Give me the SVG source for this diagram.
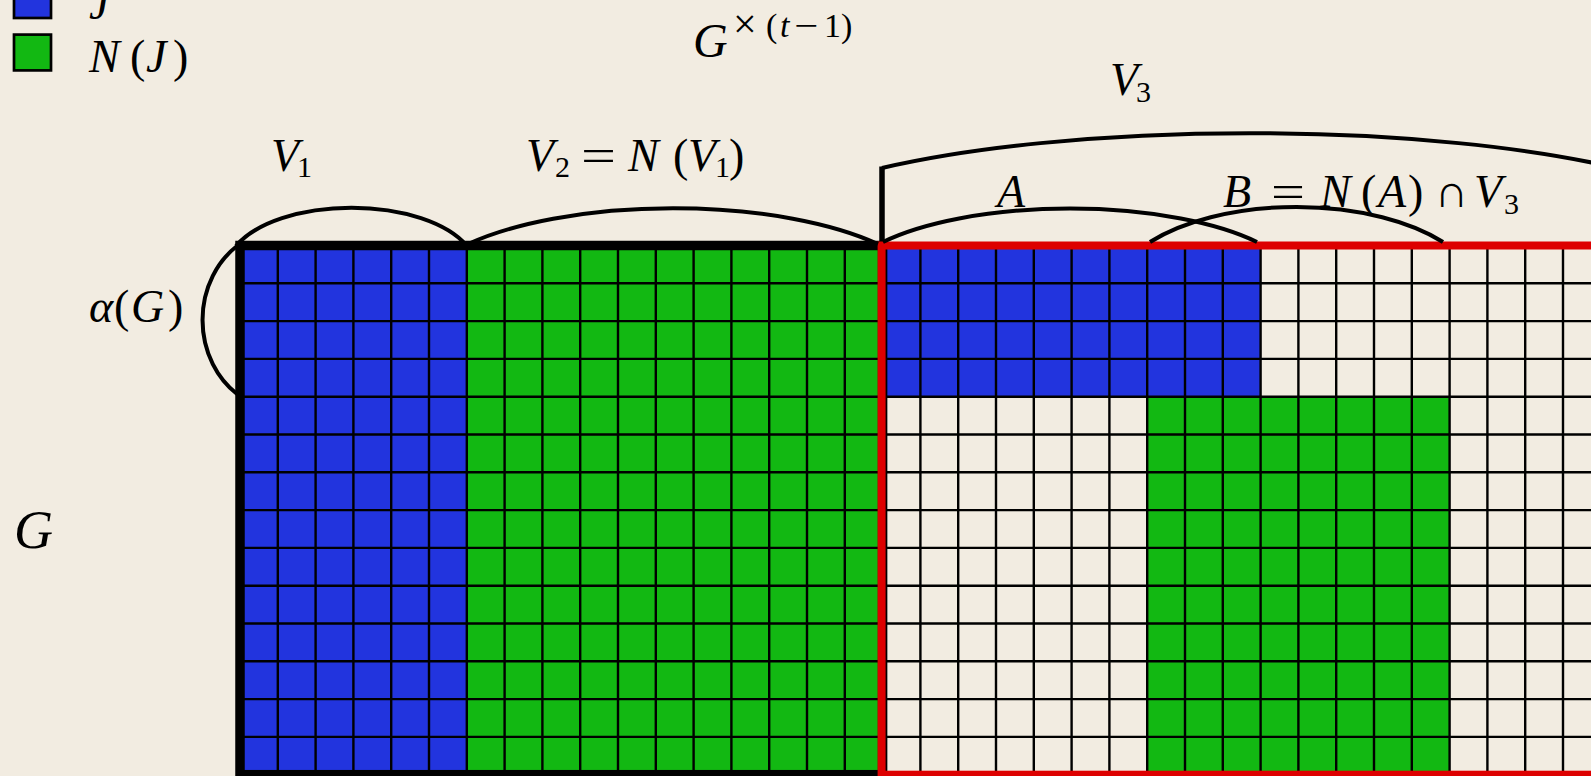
<svg xmlns="http://www.w3.org/2000/svg" width="1591" height="776" viewBox="0 0 1591 776">
<style>
.bg{fill:#F2ECE1}
.blue{fill:#2234DE}
.green{fill:#12B812}
.grid{fill:none;stroke:#000;stroke-width:2.4}
.bl{fill:none;stroke:#000;stroke-width:9.5}
.rb{fill:none;stroke:#DD0000;stroke-width:8}
.arc{fill:none;stroke:#000;stroke-width:4}
.leg{stroke:#000;stroke-width:2.7}
text{font-family:"Liberation Serif","DejaVu Serif",serif;font-size:46px;fill:#000}
.i{font-style:italic}
.s{font-size:30px}
.sup{font-size:34px}
</style>
<rect class="bg" x="0" y="0" width="1591" height="776"/>

<g id="legend-J">
<rect class="blue leg" x="14" y="-18" width="37" height="36"/>
<text class="i" x="89" y="19">J</text>
</g>
<g id="legend-NJ">
<rect class="green leg" x="14" y="34.6" width="37" height="35.8"/>
<text x="89" y="71.7"><tspan class="i">N</tspan><tspan x="130">(</tspan><tspan class="i" x="146">J</tspan><tspan x="173">)</tspan></text>
</g>

<g id="block-left">
<rect class="blue" x="240" y="245.5" width="226.8" height="529.2"/>
<rect class="green" x="466.8" y="245.5" width="415.8" height="529.2"/>
</g>
<g id="block-right">
<rect class="blue" x="882.6" y="245.5" width="378" height="151.2"/>
<rect class="green" x="1147.2" y="396.7" width="302.4" height="378"/>
</g>

<g id="grid">
<path class="grid" d="M277.8 245.5V774.7M315.6 245.5V774.7M353.4 245.5V774.7M391.2 245.5V774.7M429 245.5V774.7M466.8 245.5V774.7M504.6 245.5V774.7M542.4 245.5V774.7M580.2 245.5V774.7M618 245.5V774.7M655.8 245.5V774.7M693.6 245.5V774.7M731.4 245.5V774.7M769.2 245.5V774.7M807 245.5V774.7M844.8 245.5V774.7M920.4 245.5V774.7M958.2 245.5V774.7M996 245.5V774.7M1033.8 245.5V774.7M1071.6 245.5V774.7M1109.4 245.5V774.7M1147.2 245.5V774.7M1185 245.5V774.7M1222.8 245.5V774.7M1260.6 245.5V774.7M1298.4 245.5V774.7M1336.2 245.5V774.7M1374 245.5V774.7M1411.8 245.5V774.7M1449.6 245.5V774.7M1487.4 245.5V774.7M1525.2 245.5V774.7M1563 245.5V774.7"/>
<path class="grid" d="M240 283.3H1591M240 321.1H1591M240 358.9H1591M240 396.7H1591M240 434.5H1591M240 472.3H1591M240 510.1H1591M240 547.9H1591M240 585.7H1591M240 623.5H1591M240 661.3H1591M240 699.1H1591M240 736.9H1591"/>
</g>

<g id="borders">
<rect class="bl" x="240" y="245.5" width="642.6" height="529.2"/>
<rect class="rb" x="881.6" y="245.5" width="800" height="529.2"/>
</g>

<g id="connectors">
<path id="arc-alpha" class="arc" d="M237 246A80 90 0 0 0 237 394"/>
<path id="arc-V1" class="arc" d="M236 246A125 62 0 0 1 467 246"/>
<path id="arc-V2" class="arc" d="M468 244A260 93 0 0 1 878 244"/>
<path id="arc-A" class="arc" d="M883 242A230 80 0 0 1 1257 242"/>
<path id="arc-B" class="arc" d="M1150 242A185 90 0 0 1 1443 242"/>
<path id="arc-V3" class="arc" d="M882 168A500 108 0 0 1 1617 168"/>
<path id="bar-V3" fill="none" stroke="#000" stroke-width="5.5" d="M882 241V166.5"/>
</g>

<g id="labels">
<g id="lbl-Gt">
<text><tspan class="i" x="693" y="57" style="font-size:48px">G</tspan><tspan class="sup" x="766" y="37">(</tspan><tspan class="i sup" x="780" y="37">t</tspan><tspan class="sup" x="824" y="37">1</tspan><tspan class="sup" x="841" y="37">)</tspan></text>
<text x="733" y="38" style="font-size:42px">×</text>
<text x="794" y="37" class="sup" textLength="24" lengthAdjust="spacingAndGlyphs">−</text>
</g>
<text id="lbl-V3"><tspan class="i" x="1110" y="95.4">V</tspan><tspan class="s" x="1136" y="102">3</tspan></text>
<text id="lbl-V1"><tspan class="i" x="271" y="170.7">V</tspan><tspan class="s" x="297" y="177">1</tspan></text>
<g id="lbl-V2">
<text><tspan class="i" x="526" y="170.7">V</tspan><tspan class="s" x="555" y="177">2</tspan><tspan class="i" x="628" y="170.7">N</tspan><tspan x="673" y="170.7">(</tspan><tspan class="i" x="688" y="170.7">V</tspan><tspan class="s" x="715" y="177">1</tspan><tspan x="729" y="170.7">)</tspan></text>
<text x="581" y="170.7" textLength="35" lengthAdjust="spacingAndGlyphs">=</text>
</g>
<text id="lbl-A" class="i" x="997" y="207.3">A</text>
<g id="lbl-B">
<text><tspan class="i" x="1223" y="207.3">B</tspan><tspan class="i" x="1320" y="207.3">N</tspan><tspan x="1361" y="207.3">(</tspan><tspan class="i" x="1378" y="207.3">A</tspan><tspan x="1408" y="207.3">)</tspan><tspan x="1435" y="207.3">∩</tspan><tspan class="i" x="1474" y="207.3">V</tspan><tspan class="s" x="1504" y="214">3</tspan></text>
<text x="1271" y="207.3" textLength="34" lengthAdjust="spacingAndGlyphs">=</text>
</g>
<text id="lbl-alpha"><tspan class="i" x="89" y="321.7">α</tspan><tspan x="114" y="321.7">(</tspan><tspan class="i" x="131" y="321.7">G</tspan><tspan x="168" y="321.7">)</tspan></text>
<text id="lbl-G" class="i" x="14" y="548" style="font-size:54px">G</text>
</g>
</svg>
